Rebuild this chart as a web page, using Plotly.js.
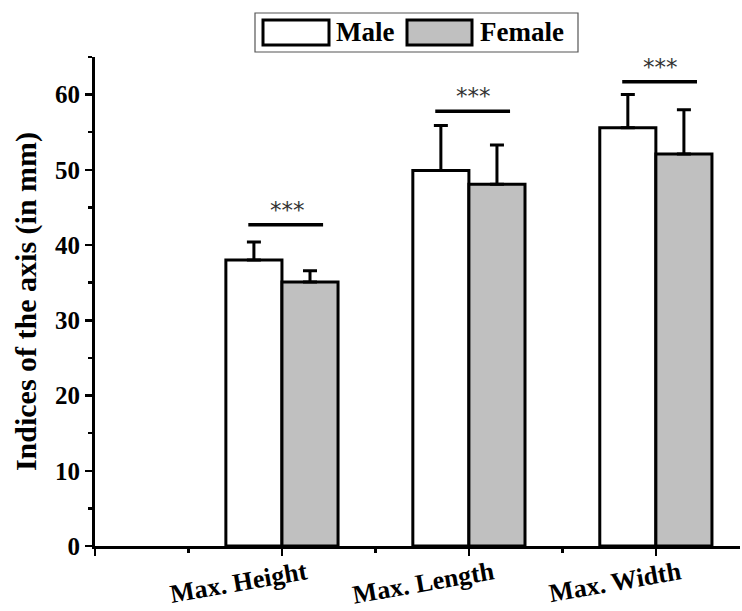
<!DOCTYPE html>
<html><head><meta charset="utf-8">
<script src="https://cdn.plot.ly/plotly-3.0.1.min.js"></script>
<style>html,body{margin:0;padding:0;background:#fff}#chart{width:742px;height:611px}</style>
</head><body><div id="chart"></div>
<script>
// Data
var categories = ['Max. Height', 'Max. Length', 'Max. Width'];
var catPos = [1, 2, 3];
var seriesNames = ['Male', 'Female'];
var seriesColors = ['#ffffff', '#c0c0c0'];
var maleMean = [38.0, 49.9, 55.6];
var maleErr = [2.4, 6.0, 4.4];
var femaleMean = [35.1, 48.1, 52.1];
var femaleErr = [1.5, 5.2, 5.9];
var sigLabel = ['***', '***', '***'];
var sigY = [42.7, 57.8, 61.7];

var FONT = 'Liberation Serif, Times New Roman, serif';
function zeros(a){return a.map(function(){return 0;});}

var traces = [
  {type: 'bar', name: seriesNames[0], x: catPos, y: maleMean, showlegend: false,
   marker: {color: seriesColors[0], line: {color: '#000', width: 3}},
   error_y: {type: 'data', symmetric: false, array: maleErr, arrayminus: zeros(maleErr),
             color: '#000', thickness: 3, width: 7}},
  {type: 'bar', name: seriesNames[1], x: catPos, y: femaleMean, showlegend: false,
   marker: {color: seriesColors[1], line: {color: '#000', width: 3}},
   error_y: {type: 'data', symmetric: false, array: femaleErr, arrayminus: zeros(femaleErr),
             color: '#000', thickness: 3, width: 7}}
];

var shapes = [], annotations = [];
for (var i = 0; i < catPos.length; i++) {
  shapes.push({type: 'line', xref: 'x', yref: 'y', x0: catPos[i] - 0.18, x1: catPos[i] + 0.22,
               y0: sigY[i], y1: sigY[i], line: {color: '#000', width: 3.5}});
  annotations.push({xref: 'x', yref: 'y', x: catPos[i] + 0.027, y: sigY[i], text: sigLabel[i],
                    showarrow: false, yanchor: 'bottom', yshift: 0,
                    font: {family: 'DejaVu Sans, sans-serif', size: 23, color: '#333'}});
}

// Legend box (paper-pixel layout converted to paper coords)
var W = 742, H = 611, ML = 95, MR = 2, MT = 57, MB = 65;
var pw = W - ML - MR, ph = H - MT - MB;
function px(x){return (x - ML) / pw;}
function py(y){return (H - MB - y) / ph;}
shapes.push({type: 'rect', xref: 'paper', yref: 'paper', x0: px(255), x1: px(578), y0: py(13), y1: py(52),
             line: {color: '#555', width: 1.2}, fillcolor: '#fff', layer: 'above'});
var sw = [[263, 329], [407, 472]];
var tx = [334, 478];
for (var k = 0; k < 2; k++) {
  shapes.push({type: 'rect', xref: 'paper', yref: 'paper', x0: px(sw[k][0]), x1: px(sw[k][1]), y0: py(20), y1: py(45),
               line: {color: '#000', width: 3}, fillcolor: seriesColors[k], layer: 'above'});
  annotations.push({xref: 'paper', yref: 'paper', x: px(tx[k]), y: py(32.5), xanchor: 'left', yanchor: 'middle',
                    text: seriesNames[k], showarrow: false,
                    font: {family: FONT, size: 27, color: '#000', weight: 'bold'}});
}

var layout = {
  width: W, height: H,
  margin: {l: ML, r: MR, t: MT, b: MB},
  paper_bgcolor: '#fff', plot_bgcolor: '#fff',
  barmode: 'group', bargap: 0.4, bargroupgap: 0,
  font: {family: FONT, color: '#000'},
  showlegend: false,
  xaxis: {range: [0, 3.45], tickvals: [0, 1, 2, 3], ticktext: [''].concat(categories),
          tickangle: -10, ticks: 'outside', ticklen: 7, tickwidth: 2.5, tickcolor: '#000',
          ticklabelshift: 24, ticklabelstandoff: -8,
          showline: true, linecolor: '#000', linewidth: 3, showgrid: false, zeroline: false,
          tickfont: {family: FONT, size: 26, color: '#000', weight: 'bold'},
          minor: {dtick: 0.5, tick0: 0, ticks: 'outside', ticklen: 4, tickwidth: 2.5, tickcolor: '#000', showgrid: false}},
  yaxis: {range: [0, 65], dtick: 10, tick0: 0, ticks: 'outside', ticklen: 7, tickwidth: 2.5, tickcolor: '#000',
          showline: true, linecolor: '#000', linewidth: 3, showgrid: false, zeroline: false,
          tickfont: {family: FONT, size: 25, color: '#000', weight: 'bold'},
          title: {text: 'Indices of the axis (in mm)', standoff: 10,
                  font: {family: FONT, size: 30, color: '#000', weight: 'bold'}},
          minor: {dtick: 5, ticks: 'outside', ticklen: 4, tickwidth: 2.5, tickcolor: '#000', showgrid: false}},
  shapes: shapes,
  annotations: annotations
};
Plotly.newPlot('chart', traces, layout, {displayModeBar: false, staticPlot: true});
</script></body></html>
